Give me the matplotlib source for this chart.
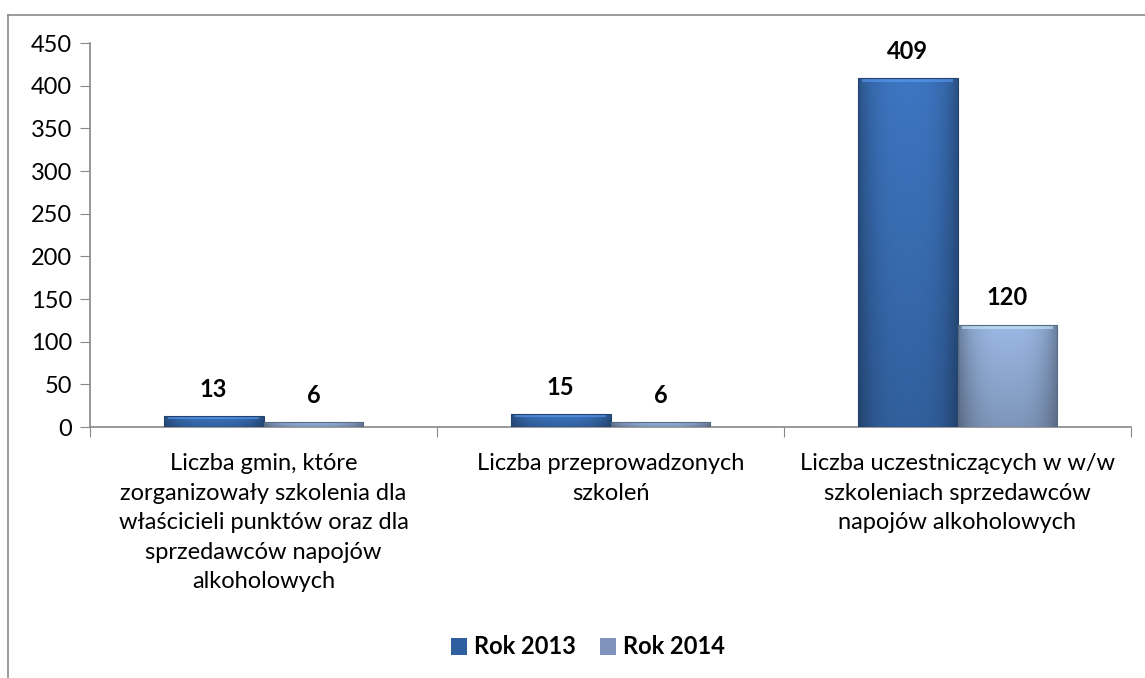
import numpy as np
import matplotlib.pyplot as plt
from matplotlib.patches import Patch
from matplotlib.lines import Line2D

plt.rcParams['font.family'] = ['Lato', 'DejaVu Sans']

categories = [
    "Liczba gmin, które\nzorganizowały szkolenia dla\nwłaścicieli punktów oraz dla\nsprzedawców napojów\nalkoholowych",
    "Liczba przeprowadzonych\nszkoleń",
    "Liczba uczestniczących w w/w\nszkoleniach sprzedawców\nnapojów alkoholowych",
]
rok_2013 = [13, 15, 409]
rok_2014 = [6, 6, 120]
series_names = ["Rok 2013", "Rok 2014"]
base_colors = ["#3a70b8", "#94b0da"]

fig = plt.figure(figsize=(11.45, 6.78), dpi=100)
ax = fig.add_axes([90/1145, 1-427/678, (1131-90)/1145, (427-43)/678])

x = np.arange(len(categories))
w = 0.288


def shade_bar(bar, color):
    # fake the bevelled gradient look of the original
    rgb = np.array(plt.matplotlib.colors.to_rgb(color))
    nx, ny = 60, 200
    u = np.linspace(0, 1, nx)
    v = np.linspace(0, 1, ny)[:, None]  # 0 = bottom, 1 = top
    horiz = 1 - 0.30 * np.abs(2*u - 1)**3
    vert = 0.85 + 0.2 * v
    f = horiz[None, :] * vert
    img = np.clip(rgb[None, None, :] * f[:, :, None], 0, 1)
    x0, y0 = bar.get_x(), bar.get_y()
    x1, y1 = x0 + bar.get_width(), y0 + bar.get_height()
    im = ax.imshow(img, extent=[x0, x1, y0, y1], origin='lower', aspect='auto', zorder=3)
    im.set_clip_path(bar)
    # light rim at the top
    top = min(5, bar.get_height() * 0.25)
    light = np.clip(rgb * 1.25 + 0.08, 0, 1)
    ax.fill_between([x0 + 0.012, x1 - 0.012], y1 - top, y1, color=light, alpha=0.55, zorder=4, lw=0)
    ax.bar(bar.get_x() + bar.get_width()/2, bar.get_height(), width=bar.get_width(),
           fill=False, edgecolor=rgb * 0.6, lw=0.8, zorder=5)


for i, (vals, col) in enumerate(zip([rok_2013, rok_2014], base_colors)):
    pos = x - w/2 if i == 0 else x + w/2
    bars = ax.bar(pos, vals, width=w, color=col, zorder=2, edgecolor='none')
    for b, v in zip(bars, vals):
        shade_bar(b, col)
        ax.annotate(str(v), (b.get_x() + b.get_width()/2, v), xytext=(0, 11),
                    textcoords='offset points', ha='center', va='bottom',
                    fontsize=17, fontweight='bold', color='black')

ax.set_xlim(-0.5, 2.5)
ax.set_ylim(0, 450)
ax.set_yticks(np.arange(0, 451, 50))
ax.tick_params(axis='y', labelsize=17, length=7, color='#888888', pad=6)
ax.set_xticks([-0.5, 0.5, 1.5, 2.5])
ax.set_xticklabels([])
ax.tick_params(axis='x', length=7, color='#888888')
for s in ['top', 'right']:
    ax.spines[s].set_visible(False)
for s in ['left', 'bottom']:
    ax.spines[s].set_color('#888888')
    ax.spines[s].set_linewidth(1.2)

for xi, lab in zip(x, categories):
    ax.text(xi, -26/0.8533, lab, ha='center', va='top', fontsize=17,
            linespacing=1.5, transform=ax.transData)

handles = [Patch(facecolor=c, edgecolor='none') for c in ["#2f5f9e", "#7f93bd"]]
leg = fig.legend(handles, series_names, loc='center', bbox_to_anchor=(588/1145, 1-647/678),
                 ncol=2, frameon=False, handlelength=0.7, handleheight=0.7,
                 handletextpad=0.3, columnspacing=1.0,
                 prop={'size': 17, 'weight': 'bold'})

# chart area border (left and top only visible)
fig.add_artist(Line2D([8/1145, 8/1145], [0, 1-15/678], color='#8a8a8a', lw=1.2))
fig.add_artist(Line2D([8/1145, 1], [1-15/678, 1-15/678], color='#8a8a8a', lw=1.2))

fig.savefig("out.png", dpi=100)
